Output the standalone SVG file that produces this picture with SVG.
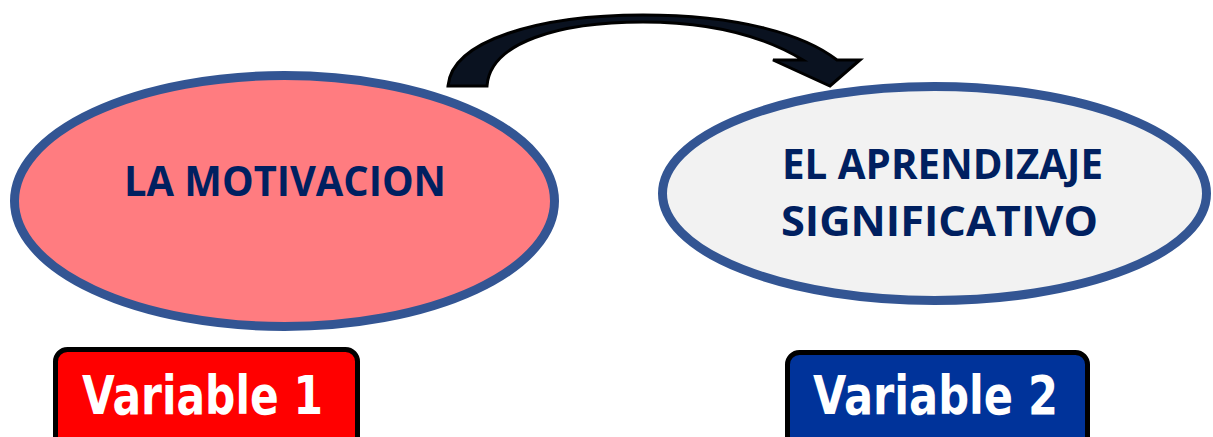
<svg xmlns="http://www.w3.org/2000/svg" width="1213" height="437" viewBox="0 0 1213 437">
<style>
.ell{stroke:#335593;stroke-width:9}
.lbl{font-family:"Open Sans","Liberation Sans",sans-serif;font-weight:bold;fill:#002060;font-size:41px;text-anchor:middle}
.var{font-family:"DejaVu Sans","Liberation Sans",sans-serif;font-weight:bold;fill:#ffffff;font-size:53px}
.box{stroke:#000000;stroke-width:5}
</style>
<rect width="1213" height="437" fill="#ffffff"/>
<g id="connectors">
<path d="M 448,86 C 452,40 540,15 643,15 C 740,15 805,35 837,60 L 860,60 L 830,86 L 773,60 L 803,60 C 770,40 720,22 643,22 C 560,22 490,42 487,86 Z" fill="#0a1220" stroke="#000000" stroke-width="3" stroke-linejoin="miter"/>
</g>
<g id="node-motivacion">
<ellipse class="ell" cx="284.5" cy="201" rx="270" ry="125.5" fill="#FF7C80"/>
<text class="lbl" x="285" y="196" textLength="322" lengthAdjust="spacingAndGlyphs">LA MOTIVACION</text>
</g>
<g id="node-aprendizaje">
<ellipse class="ell" cx="934.5" cy="193.5" rx="272" ry="107" fill="#F2F2F2"/>
<text class="lbl" x="942.5" y="179" textLength="321" lengthAdjust="spacingAndGlyphs">EL APRENDIZAJE</text>
<text class="lbl" x="939.5" y="236" textLength="317" lengthAdjust="spacingAndGlyphs">SIGNIFICATIVO</text>
</g>
<g id="node-variable1">
<rect class="box" x="55.5" y="349.5" width="302" height="100" rx="12" fill="#FF0000"/>
<text class="var" x="82" y="414" textLength="241" lengthAdjust="spacingAndGlyphs">Variable 1</text>
</g>
<g id="node-variable2">
<rect class="box" x="787.5" y="352.5" width="300" height="100" rx="12" fill="#00339A"/>
<text class="var" x="813" y="414" textLength="245" lengthAdjust="spacingAndGlyphs">Variable 2</text>
</g>
</svg>
